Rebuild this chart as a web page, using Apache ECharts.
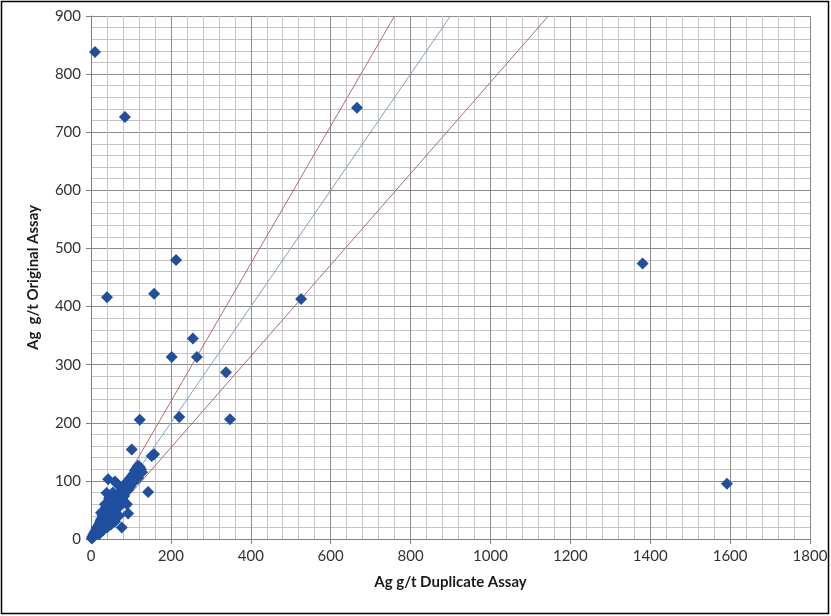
<!DOCTYPE html>
<html>
<head>
<meta charset="utf-8">
<script src="https://cdn.jsdelivr.net/npm/echarts@6/dist/echarts.min.js"></script>
<style>
html,body{margin:0;padding:0;background:#fff;}
#c{width:831px;height:616px;}
</style>
</head>
<body>
<div id="c"></div>
<script>
// Duplicate assay (x) vs original assay (y), Ag g/t
const duplicateX = [
  10, 85, 666, 213, 40, 158, 526, 1381, 1592, 255, 202, 265, 338, 221, 348, 122, 102, 152, 158, 118, 143, 43, 60, 93, 77, 39,
  2, 3, 5, 6, 8, 9, 10, 12, 13, 14, 15, 16, 18, 19, 20, 21, 22, 23, 24, 25, 26, 27, 28, 29, 30, 31, 32, 33, 34, 35, 36, 37, 38,
  40, 41, 42, 43, 44, 45, 46, 47, 48, 50, 51, 52, 53, 55, 56, 57, 58, 60, 61, 62, 63, 65, 66, 68, 69, 70, 72, 73, 74, 76, 78,
  79, 80, 82, 83, 85, 87, 88, 90, 92, 93, 95, 97, 98, 100, 102, 104, 106, 108, 110, 112, 114, 116, 118, 120, 122, 125, 128, 118,
  60, 70, 50, 40, 30, 20, 55, 45, 35, 25, 65, 90
];
const originalY = [
  838, 726, 742, 480, 416, 422, 413, 474, 95, 345, 313, 313, 287, 210, 206, 205, 154, 143, 146, 123, 81, 103, 99, 44, 20, 79,
  1, 4, 3, 8, 5, 12, 7, 10, 16, 11, 20, 13, 22, 15, 25, 18, 28, 20, 32, 22, 35, 25, 30, 40, 27, 36, 45, 30, 40, 50, 33, 42, 55,
  38, 48, 60, 44, 35, 52, 65, 46, 40, 55, 62, 48, 70, 52, 60, 45, 66, 56, 72, 50, 64, 60, 75, 62, 70, 55, 68, 80, 64, 72, 85,
  68, 76, 90, 74, 80, 95, 82, 88, 100, 85, 92, 104, 90, 98, 108, 96, 112, 104, 118, 110, 122, 114, 126, 118, 124, 120, 115, 105,
  30, 40, 25, 20, 15, 8, 80, 70, 60, 45, 95, 60
];
// Reference lines: end points (x at y = 900)
const lineNames = ['upper', '1:1', 'lower'];
const lineEndX = [760, 900, 1145];
const lineEndY = [900, 900, 900];
const lineColors = ['#b26a74', '#7f9fc8', '#b26a74'];

const xTicks = [0, 200, 400, 600, 800, 1000, 1200, 1400, 1600, 1800];
const yTicks = [0, 100, 200, 300, 400, 500, 600, 700, 800, 900];

const pts = duplicateX.map((x, i) => [x, originalY[i]]);
const font = 'Lato, "Open Sans", "Liberation Sans", sans-serif';

const series = lineNames.map((n, i) => ({
  name: n, type: 'line', showSymbol: false, silent: true,
  data: [[0, 0], [lineEndX[i], lineEndY[i]]],
  lineStyle: { color: lineColors[i], width: 1 },
  z: 3
}));
series.push({
  name: 'Ag', type: 'scatter', data: pts, symbol: 'diamond', symbolSize: 12,
  itemStyle: { color: '#1f4f9e', opacity: 1 }, z: 4
});

const chart = echarts.init(document.getElementById('c'), null, { renderer: 'canvas' });
chart.setOption({
  animation: false,
  backgroundColor: '#fff',
  grid: { left: 91, right: 21, top: 16, bottom: 77 },
  graphic: [{
    type: 'rect', shape: { x: 1.5, y: 1.5, width: 827, height: 612 },
    style: { fill: 'none', stroke: '#000', lineWidth: 1.5 }, silent: true
  }],
  xAxis: {
    type: 'value', min: xTicks[0], max: xTicks[xTicks.length - 1], interval: 200,
    name: 'Ag g/t Duplicate Assay', nameLocation: 'middle', nameGap: 36,
    nameTextStyle: { fontFamily: font, fontWeight: 'bold', fontSize: 15, color: '#1a1a1a' },
    axisLine: { show: true, lineStyle: { color: '#808080' } },
    axisTick: { show: true, length: 5, lineStyle: { color: '#808080' } },
    axisLabel: { fontFamily: font, fontSize: 15, color: '#333', margin: 10, formatter: v => String(v) },
    splitLine: { show: true, lineStyle: { color: '#8c8c8c', width: 1 } },
    minorTick: { show: false, splitNumber: 5 },
    minorSplitLine: { show: true, lineStyle: { color: '#c4c4c4', width: 1 } }
  },
  yAxis: {
    type: 'value', min: yTicks[0], max: yTicks[yTicks.length - 1], interval: 100,
    name: 'Ag  g/t Original Assay', nameLocation: 'middle', nameGap: 50,
    nameTextStyle: { fontFamily: font, fontWeight: 'bold', fontSize: 15, color: '#1a1a1a' },
    axisLine: { show: true, lineStyle: { color: '#808080' } },
    axisTick: { show: true, length: 5, lineStyle: { color: '#808080' } },
    axisLabel: { fontFamily: font, fontSize: 15, color: '#333', margin: 10, formatter: v => String(v) },
    splitLine: { show: true, lineStyle: { color: '#8c8c8c', width: 1 } },
    minorTick: { show: false, splitNumber: 5 },
    minorSplitLine: { show: true, lineStyle: { color: '#c4c4c4', width: 1 } }
  },
  series: series
});
</script>
</body>
</html>
